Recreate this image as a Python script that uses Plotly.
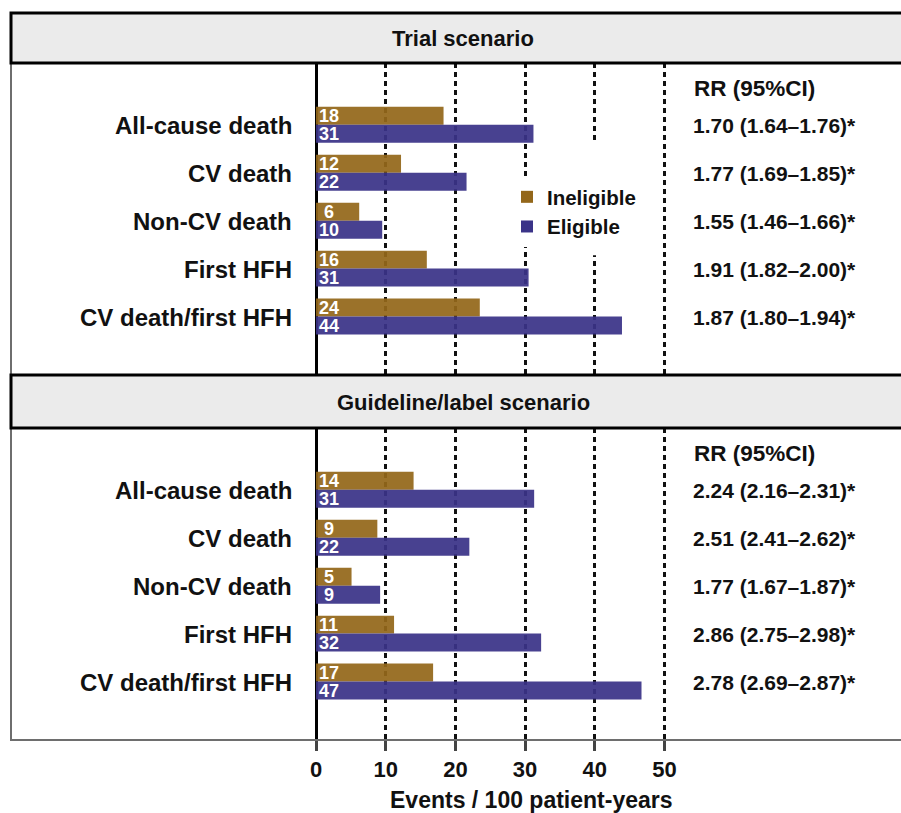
import plotly.graph_objects as go

# ---------------- data ----------------
categories = ["All-cause death", "CV death", "Non-CV death", "First HFH", "CV death/first HFH"]
series_names = ["Ineligible", "Eligible"]
panel_titles = ["Trial scenario", "Guideline/label scenario"]

trial_ineligible = [18.3, 12.2, 6.2, 15.9, 23.5]
trial_eligible = [31.2, 21.6, 9.5, 30.5, 43.9]
trial_ineligible_labels = ["18", "12", "6", "16", "24"]
trial_eligible_labels = ["31", "22", "10", "31", "44"]
trial_rr = ["1.70 (1.64\u20131.76)*", "1.77 (1.69\u20131.85)*", "1.55 (1.46\u20131.66)*",
            "1.91 (1.82\u20132.00)*", "1.87 (1.80\u20131.94)*"]

guide_ineligible = [14.0, 8.8, 5.1, 11.2, 16.8]
guide_eligible = [31.3, 22.0, 9.2, 32.3, 46.7]
guide_ineligible_labels = ["14", "9", "5", "11", "17"]
guide_eligible_labels = ["31", "22", "9", "32", "47"]
guide_rr = ["2.24 (2.16\u20132.31)*", "2.51 (2.41\u20132.62)*", "1.77 (1.67\u20131.87)*",
            "2.86 (2.75\u20132.98)*", "2.78 (2.69\u20132.87)*"]

rr_header = "RR (95%CI)"
x_ticks = [0, 10, 20, 30, 40, 50]
x_title = "Events / 100 patient-years"

# ---------------- style ----------------
FONT = "Liberation Sans, Arial, Helvetica, sans-serif"
BROWN = "#93671A"
BLUE = "#3A3388"
TXT = "#111111"

W, H = 901, 813
ML, MR, MT, MB = 11, 0, 13, 73
plot_w = W - ML - MR
plot_h = H - MT - MB


def py(pix):
    """pixel row -> paper fraction"""
    return (H - MB - pix) / plot_h


def px(pix):
    """pixel column -> paper fraction"""
    return (pix - ML) / plot_w


dom1 = [py(375), py(63)]
dom2 = [py(740), py(428)]
strip1 = [py(63), py(13)]
strip2 = [py(428), py(375)]


def pad(labels):
    return [("\u2008" + s) if len(s) == 1 else s for s in labels]


fig = go.Figure()

panels = [
    ("x", "y", trial_ineligible, trial_eligible, trial_ineligible_labels, trial_eligible_labels, True),
    ("x2", "y2", guide_ineligible, guide_eligible, guide_ineligible_labels, guide_eligible_labels, False),
]

for xa, ya, inel, elig, inel_lab, elig_lab, showleg in panels:
    for name, vals, labs, col in [(series_names[0], inel, inel_lab, BROWN),
                                  (series_names[1], elig, elig_lab, BLUE)]:
        fig.add_trace(go.Bar(
            x=vals, y=categories, orientation="h", name=name,
            marker=dict(color=col, opacity=0.93, line=dict(width=0)),
            text=pad(labs), textposition="inside", insidetextanchor="start",
            constraintext="none", textangle=0,
            textfont=dict(family=FONT, size=18, color="white", weight="bold"),
            xaxis=xa, yaxis=ya, showlegend=showleg, legendgroup=name,
            hoverinfo="skip",
        ))

px_per_unit = 6.97
x0_pix = 316
common_x = dict(
    range=[(ML - x0_pix) / px_per_unit, (W - MR - x0_pix) / px_per_unit],
    tickvals=x_ticks, showgrid=True, gridcolor="#111111", griddash="5px,4px",
    gridwidth=2.5, zeroline=True, zerolinecolor="#000000", zerolinewidth=3,
    showline=False, fixedrange=True,
)

common_y = dict(
    type="category", categoryarray=categories, range=[5.22, -1.29],
    showticklabels=False, ticks="", showgrid=False, zeroline=False, showline=False,
    fixedrange=True,
)

fig.update_layout(
    width=W, height=H,
    margin=dict(l=ML, r=MR, t=MT, b=MB),
    paper_bgcolor="white", plot_bgcolor="white",
    barmode="group", bargap=0.25, bargroupgap=0,
    font=dict(family=FONT, color=TXT),
    xaxis=dict(**common_x, anchor="y", showticklabels=False, ticks=""),
    yaxis=dict(**common_y, domain=dom1, anchor="x"),
    xaxis2=dict(**common_x, anchor="y2", showticklabels=True, ticks="outside",
                ticklen=10, tickwidth=3, tickcolor="#444444", ticklabelstandoff=0,
                tickfont=dict(family=FONT, size=22, color=TXT, weight="bold")),
    yaxis2=dict(**common_y, domain=dom2, anchor="x2"),
    legend=dict(x=px(507), y=py(177), xanchor="left", yanchor="top",
                bgcolor="white", font=dict(family=FONT, size=20.5, color=TXT, weight="bold"),
                traceorder="normal", tracegroupgap=0, itemwidth=30),
    showlegend=True,
)

shapes = []
# white gap in the 40 gridline behind the legend (top panel)
shapes.append(dict(type="rect", xref="x", yref="y", x0=37, x1=43, y0=0.32, y1=2.72,
                   fillcolor="white", line=dict(width=0), layer="between"))
# panel frames
for d in (dom1, dom2):
    shapes.append(dict(type="rect", xref="paper", yref="paper", x0=0, x1=1.2, y0=d[0], y1=d[1],
                       line=dict(color="#6e6e6e", width=2), fillcolor="rgba(0,0,0,0)", layer="above"))
# strips
for s in (strip1, strip2):
    shapes.append(dict(type="rect", xref="paper", yref="paper", x0=0, x1=1.2, y0=s[0], y1=s[1],
                       line=dict(color="#000000", width=3), fillcolor="#ebebeb", layer="above"))
fig.update_layout(shapes=shapes)

annotations = []
for (title, s) in zip(panel_titles, (strip1, strip2)):
    annotations.append(dict(text=title, xref="paper", yref="paper",
                            x=px(463), y=(s[0] + s[1]) / 2, yshift=-1,
                            xanchor="center", yanchor="middle", showarrow=False,
                            font=dict(family=FONT, size=22, color=TXT, weight="bold")))

for xa, ya, rr in (("x", "y", trial_rr), ("x2", "y2", guide_rr)):
    for cat, r in zip(categories, rr):
        annotations.append(dict(text=cat, xref=xa, yref=ya, x=-3.2, y=cat,
                                xanchor="right", yanchor="middle", showarrow=False, yshift=-1,
                                font=dict(family=FONT, size=24, color=TXT, weight="bold")))
        annotations.append(dict(text=r, xref=xa, yref=ya, x=53.8, y=cat,
                                xanchor="left", yanchor="middle", showarrow=False, yshift=-1,
                                font=dict(family=FONT, size=21, color=TXT, weight="bold")))
    annotations.append(dict(text=rr_header, xref=xa, yref=ya, x=54.0, y=-0.76,
                            xanchor="left", yanchor="middle", showarrow=False,
                            font=dict(family=FONT, size=22.5, color=TXT, weight="bold")))

annotations.append(dict(text=x_title, xref="paper", yref="paper",
                        x=px(531), y=py(800), xanchor="center", yanchor="middle",
                        showarrow=False, font=dict(family=FONT, size=23, color=TXT, weight="bold")))
fig.update_layout(annotations=annotations)

fig.write_html(
    "out.html",
    config={"displayModeBar": False},
    post_script="document.body.style.margin='0';document.body.style.overflow='hidden';",
)
